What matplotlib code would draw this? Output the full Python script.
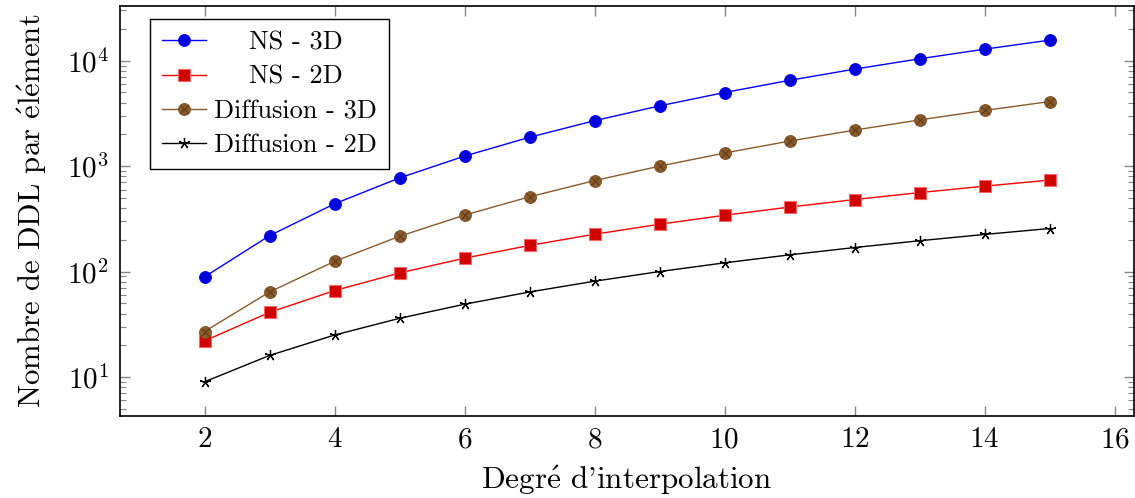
import numpy as np
import matplotlib
matplotlib.use('Agg')
from matplotlib import pyplot as plt
from matplotlib.legend_handler import HandlerTuple
from matplotlib.ticker import LogLocator, FixedLocator, NullFormatter

plt.rcParams['font.family'] = ['cmr10', 'DejaVu Serif']
plt.rcParams['mathtext.fontset'] = 'cm'
plt.rcParams['axes.formatter.use_mathtext'] = True

degree = [2, 3, 4, 5, 6, 7, 8, 9, 10, 11, 12, 13, 14, 15]
ns_3d = [89, 219, 439, 773, 1245, 1879, 2699, 3729, 4993, 6515, 8319, 10429, 12869, 15663]
ns_2d = [22, 41, 66, 97, 134, 177, 226, 281, 342, 409, 482, 561, 646, 737]
diff_3d = [27, 64, 125, 216, 343, 512, 729, 1000, 1331, 1728, 2197, 2744, 3375, 4096]
diff_2d = [9, 16, 25, 36, 49, 64, 81, 100, 121, 144, 169, 196, 225, 256]
labels = ['NS - 3D', 'NS - 2D', 'Diffusion - 3D', 'Diffusion - 2D']

fig = plt.figure(figsize=(11.35, 4.98), dpi=100)
ax = fig.add_axes([120/1135, 1 - 416/498, 1014/1135, 410/498])

brown = '#8b5a2b'
l1, = ax.plot(degree, ns_3d, color='#0000ff', lw=1.0, marker='o', ms=8.6,
              mfc='#0000dd', mec='#0000ee', mew=0.6)
l2, = ax.plot(degree, ns_2d, color='#ff0000', lw=1.0, marker='s', ms=8.2,
              mfc='#d00000', mec='#ff6666', mew=0.8)
l3, = ax.plot(degree, diff_3d, color=brown, lw=1.0, marker='o', ms=8.6,
              mfc=brown, mec='#7a4e24', mew=0.6)
l3x, = ax.plot(degree, diff_3d, color='none', marker='x', ms=5.5,
               mec='#5a3818', mew=0.7, zorder=3)
l4, = ax.plot(degree, diff_2d, color='black', lw=1.0, marker=(5, 2, 0), ms=8,
              mec='black', mew=0.9)

ax.set_yscale('log')
ax.set_xlim(0.7, 16.3)
ax.set_ylim(10**0.63, 10**4.519)
ax.xaxis.set_major_locator(FixedLocator([2, 4, 6, 8, 10, 12, 14, 16]))
ax.yaxis.set_major_locator(LogLocator(base=10))
ax.yaxis.set_minor_locator(LogLocator(base=10, subs=np.arange(2, 10)))
ax.yaxis.set_minor_formatter(NullFormatter())

ax.tick_params(which='both', direction='in', top=True, right=True,
               color='#888888', labelsize=21, pad=8)
ax.tick_params(which='major', length=7, width=1.0)
ax.tick_params(which='minor', length=4.5, width=0.8)
for s in ax.spines.values():
    s.set_linewidth(1.2)

ax.set_xlabel("Degr$\\acute{\\mathrm{e}}$ d'interpolation", fontsize=22.4, labelpad=7)
ax.set_ylabel('Nombre de DDL par $\\acute{\\mathrm{e}}$l$\\acute{\\mathrm{e}}$ment',
              fontsize=22.2, labelpad=12.5)

leg = ax.legend([l1, l2, (l3, l3x), l4], labels, loc='upper left',
                bbox_to_anchor=(0.0296, 0.968), borderaxespad=0, fontsize=18.9,
                fancybox=False, edgecolor='black', framealpha=1,
                handlelength=1.7, handletextpad=0.3, labelspacing=0.4,
                borderpad=0.45, handler_map={tuple: HandlerTuple(ndivide=1)})
leg.get_frame().set_linewidth(1.0)

# centre the legend entries like pgfplots does
fig.canvas.draw()
renderer = fig.canvas.get_renderer()
widths = [t.get_window_extent(renderer).width for t in leg.get_texts()]
for t, w in zip(leg.get_texts(), widths):
    t.set_position(((max(widths) - w) / 2, 0))

fig.savefig('out.png', dpi=100)
